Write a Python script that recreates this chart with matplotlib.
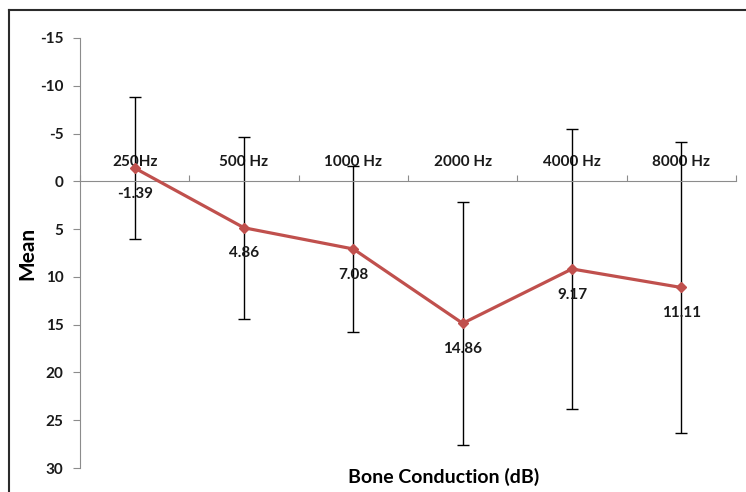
import matplotlib
matplotlib.use("Agg")
import matplotlib.pyplot as plt
from matplotlib.lines import Line2D

categories = ["250Hz", "500 Hz", "1000 Hz", "2000 Hz", "4000 Hz", "8000 Hz"]
means = [-1.39, 4.86, 7.08, 14.86, 9.17, 11.11]
labels = ["-1.39", "4.86", "7.08", "14.86", "9.17", "11.11"]
errors = [7.45, 9.5, 8.65, 12.72, 14.63, 15.2]
yticks = [-15, -10, -5, 0, 5, 10, 15, 20, 25, 30]
ytick_labels = ["-15", "-10", "-5", "0", "5", "10", "15", "20", "25", "30"]

plt.rcParams['font.family'] = ['Lato', 'DejaVu Sans']

W, H = 746, 492
fig = plt.figure(figsize=(W / 100, H / 100), dpi=100)
ax = fig.add_axes([80 / W, 1 - 468 / H, 656 / W, 430 / H])

x = [i + 0.5 for i in range(len(categories))]
red = "#C0504D"
ax.errorbar(x, means, yerr=errors, fmt="none", ecolor="black", elinewidth=1.0,
            capsize=4, capthick=1.0, zorder=2)
ax.plot(x, means, color=red, linewidth=2.3, marker="D", markersize=5.5,
        markerfacecolor=red, markeredgecolor=red, zorder=3)

for xi, m, lab in zip(x, means, labels):
    ax.annotate(lab, (xi, m), xytext=(0, -18.5), textcoords="offset points",
                ha="center", va="center", fontsize=11, fontweight="bold",
                color="#1a1a1a")

ax.set_xlim(0, len(categories))
ax.set_ylim(30, -15)

axis_col = "#8c8c8c"
for s in ["right", "bottom"]:
    ax.spines[s].set_visible(False)
ax.spines["left"].set_color(axis_col)
ax.spines["top"].set_color(axis_col)
ax.spines["top"].set_position(("data", 0))

ax.xaxis.set_ticks_position("top")
ax.set_xticks(range(len(categories) + 1))
ax.set_xticklabels([])
ax.set_xticks(x, minor=True)
ax.set_xticklabels(categories, minor=True, fontsize=11, fontweight="bold", color="#1a1a1a")
ax.tick_params(axis="x", which="major", direction="out", length=4, color=axis_col)
ax.tick_params(axis="x", which="minor", length=0, pad=9)

ax.set_yticks(yticks)
ax.set_yticklabels(ytick_labels, fontsize=11, fontweight="bold", color="#1a1a1a")
ax.tick_params(axis="y", direction="out", length=5, color=axis_col, pad=7)

fig.text(27 / W, 1 - 253 / H, "Mean", rotation=90, ha="center", va="center",
         fontsize=15, fontweight="bold", color="black")
fig.text(444 / W, 1 - 477 / H, "Bone Conduction (dB)", ha="center", va="center",
         fontsize=14, fontweight="bold", color="black")

# chart border (top and left edges visible)
fig.add_artist(Line2D([9 / W, 1.0], [1 - 10 / H, 1 - 10 / H], transform=fig.transFigure,
                      color="#2b2b2b", linewidth=1.5))
fig.add_artist(Line2D([9 / W, 9 / W], [0, 1 - 10 / H], transform=fig.transFigure,
                      color="#2b2b2b", linewidth=1.5))

fig.savefig("out.png", dpi=100)
